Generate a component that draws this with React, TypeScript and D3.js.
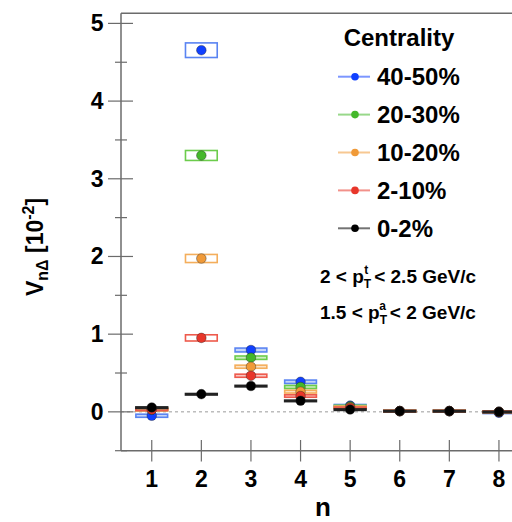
import React from "react";
import * as d3 from "d3";

const harmonics = [1, 2, 3, 4, 5, 6, 7, 8];
const centralityLabels = ["40-50%", "20-30%", "10-20%", "2-10%", "0-2%"];
const seriesColors = ["#1040ff", "#44b82a", "#f09a38", "#e8362a", "#000000"];
const boxColors = ["#5a84f2", "#6ccc4c", "#f4ae5c", "#ee5a4c", "#222222"];

const v40_50 = [-0.05, 4.655, 0.796, 0.387, 0.08, 0.01, 0.01, -0.012];
const v20_30 = [0.03, 3.3, 0.697, 0.32, 0.07, 0.01, 0.01, 0.0];
const v10_20 = [0.03, 1.974, 0.581, 0.26, 0.06, 0.01, 0.01, 0.0];
const v2_10 = [0.03, 0.952, 0.465, 0.204, 0.05, 0.01, 0.01, 0.0];
const v0_2 = [0.056, 0.228, 0.333, 0.143, 0.03, 0.01, 0.01, 0.0];

const sys40_50 = [0.02, 0.094, 0.025, 0.022, 0.015, 0.01, 0.01, 0.01];
const sys20_30 = [0.015, 0.064, 0.022, 0.02, 0.015, 0.01, 0.01, 0.01];
const sys10_20 = [0.015, 0.052, 0.02, 0.018, 0.015, 0.01, 0.01, 0.01];
const sys2_10 = [0.015, 0.04, 0.02, 0.016, 0.012, 0.01, 0.01, 0.01];
const sys0_2 = [0.008, 0.008, 0.008, 0.008, 0.008, 0.008, 0.008, 0.008];

const yTicks = [0, 1, 2, 3, 4, 5];
const yMinorTicks = [-0.5, 0.5, 1.5, 2.5, 3.5, 4.5];

const values = [v40_50, v20_30, v10_20, v2_10, v0_2];
const systs = [sys40_50, sys20_30, sys10_20, sys2_10, sys0_2];

const W = 512;
const H = 522;
const FONT = "'Liberation Sans', Arial, Helvetica, sans-serif";

export default function App() {
  const x = d3.scaleLinear().domain([0.38, 8.62]).range([121, 529.7]);
  const y = d3.scaleLinear().domain([-0.5, 5.13]).range([450.7, 13.3]);
  const halfW = x(1.32) - x(1);
  const axisColor = "#6b6b6b";

  return (
    <svg
      width={W}
      height={H}
      style={{ position: "absolute", left: 0, top: 0, background: "#fff" }}
      fontFamily={FONT}
    >
      <rect x={0} y={0} width={W} height={H} fill="#fff" />
      {/* zero dashed line */}
      <line
        x1={x.range()[0]}
        x2={W}
        y1={y(0)}
        y2={y(0)}
        stroke="#9a9a9a"
        strokeWidth={1}
        strokeDasharray="3,3"
      />
      {/* frame */}
      <line x1={121} x2={W} y1={y(5.13)} y2={y(5.13)} stroke={axisColor} strokeWidth={1.5} />
      <line x1={121} x2={121} y1={y(5.13)} y2={y(-0.5)} stroke={axisColor} strokeWidth={1.5} />
      <line x1={121} x2={W} y1={y(-0.5)} y2={y(-0.5)} stroke={axisColor} strokeWidth={1.5} />
      {/* y ticks */}
      {yTicks.map((t) => (
        <g key={"yt" + t}>
          <line x1={108} x2={133} y1={y(t)} y2={y(t)} stroke={axisColor} strokeWidth={1.2} />
          <text
            x={103.5}
            y={y(t) + 8}
            textAnchor="end"
            fontSize={23}
            fontWeight="bold"
            fill="#000"
          >
            {t}
          </text>
        </g>
      ))}
      {yMinorTicks.map((t) => (
        <line key={"ym" + t} x1={115} x2={127} y1={y(t)} y2={y(t)} stroke={axisColor} strokeWidth={1.2} />
      ))}
      {/* x ticks */}
      {harmonics.map((n) => (
        <g key={"xt" + n}>
          <line x1={x(n)} x2={x(n)} y1={440} y2={461.5} stroke={axisColor} strokeWidth={1.2} />
          <text
            x={x(n)}
            y={486.5}
            textAnchor="middle"
            fontSize={23}
            fontWeight="bold"
            fill="#000"
          >
            {n}
          </text>
        </g>
      ))}
      {/* axis titles */}
      <text x={323} y={516} textAnchor="middle" fontSize={26} fontWeight="bold" fill="#000">
        n
      </text>
      <g transform="translate(43,296) rotate(-90)">
        <text x={0} y={0} fontSize={23} fontWeight="bold" fill="#000">
          V
          <tspan fontSize={16} dy={5}>nΔ</tspan>
          <tspan dy={-5}> [10</tspan>
          <tspan fontSize={16} dy={-9}>-2</tspan>
          <tspan dy={9}>]</tspan>
        </text>
      </g>
      {/* data: boxes then markers */}
      {values.map((vals, si) => (
        <g key={"s" + si}>
          {harmonics.map((n, i) => {
            const s = systs[si][i];
            const top = y(vals[i] + s);
            const h = Math.max(y(vals[i] - s) - top, 1.5);
            const small = h < 6;
            return (
              <rect
                key={"b" + i}
                x={x(n) - halfW}
                y={top}
                width={halfW * 2}
                height={h}
                fill={small ? boxColors[si] : "none"}
                fillOpacity={small ? 0.35 : 0}
                stroke={boxColors[si]}
                strokeWidth={1.6}
              />
            );
          })}
          {harmonics.map((n, i) => (
            <circle
              key={"c" + i}
              cx={x(n)}
              cy={y(vals[i])}
              r={4.8}
              fill={seriesColors[si]}
              stroke="#222"
              strokeWidth={0.4}
            />
          ))}
        </g>
      ))}
      {/* legend */}
      <text x={399} y={46} textAnchor="middle" fontSize={24} fontWeight="bold" fill="#000">
        Centrality
      </text>
      {centralityLabels.map((lab, i) => {
        const cy = 76.7 + i * 37.9;
        return (
          <g key={"lg" + i}>
            <line
              x1={338}
              x2={370}
              y1={cy}
              y2={cy}
              stroke={seriesColors[i]}
              strokeOpacity={0.55}
              strokeWidth={2}
            />
            <circle cx={355} cy={cy} r={3.8} fill={seriesColors[i]} />
            <text x={377} y={cy + 8.5} fontSize={24} fontWeight="bold" fill="#000">
              {lab}
            </text>
          </g>
        );
      })}
      <text x={320} y={283} fontSize={19} fontWeight="bold" fill="#000">
        2 &lt; p
        <tspan fontSize={12} dy={5}>T</tspan>
        <tspan fontSize={12} dx={-7} dy={-14}>t</tspan>
        <tspan fontSize={19} dx={6} dy={9}>&lt; 2.5 GeV/c</tspan>
      </text>
      <text x={320} y={319} fontSize={19} fontWeight="bold" fill="#000">
        1.5 &lt; p
        <tspan fontSize={12} dy={5}>T</tspan>
        <tspan fontSize={12} dx={-7} dy={-14}>a</tspan>
        <tspan fontSize={19} dx={4} dy={9}>&lt; 2 GeV/c</tspan>
      </text>
    </svg>
  );
}
